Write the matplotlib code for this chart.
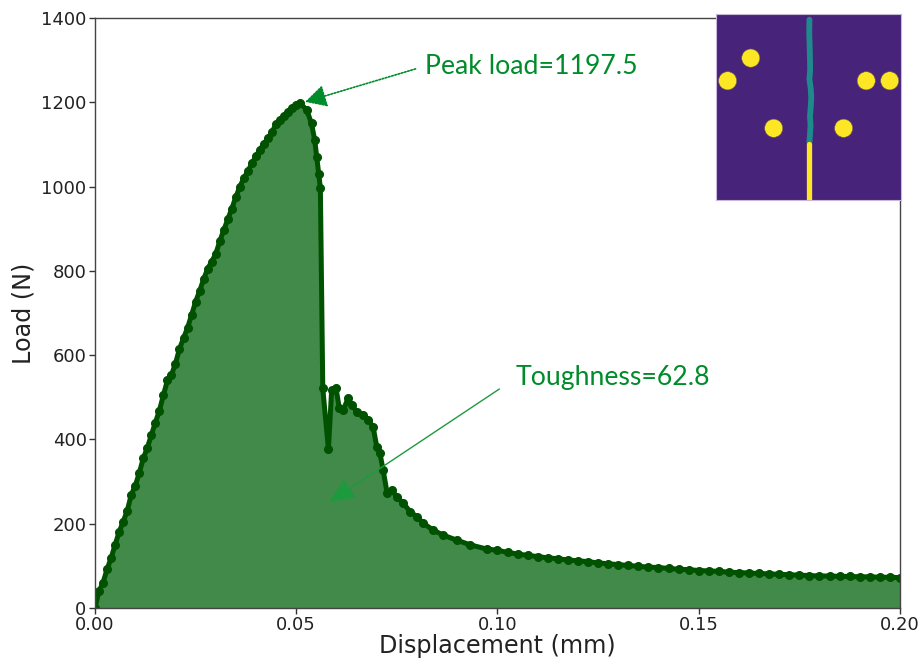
import matplotlib
matplotlib.use("Agg")
import matplotlib.pyplot as plt
from matplotlib.patches import Circle

# ---------------- data ----------------
disp_rise = [0.000, 0.001, 0.002, 0.003, 0.004, 0.005, 0.006, 0.007, 0.008, 0.009,
             0.010, 0.011, 0.012, 0.013, 0.014, 0.015, 0.016, 0.017, 0.018, 0.019,
             0.020, 0.021, 0.022, 0.023, 0.024, 0.025, 0.026, 0.027, 0.028, 0.029,
             0.030, 0.031, 0.032, 0.033, 0.034, 0.035, 0.036, 0.037, 0.038, 0.039,
             0.040, 0.041, 0.042, 0.043, 0.044, 0.045, 0.046, 0.047, 0.048, 0.049,
             0.050, 0.051]
load_rise = [0, 40, 60, 92, 118, 150, 180, 205, 230, 268,
             290, 320, 355, 380, 410, 440, 468, 505, 540, 553,
             580, 615, 640, 665, 695, 727, 752, 780, 805, 822,
             840, 870, 897, 922, 948, 975, 1000, 1020, 1037, 1055,
             1072, 1088, 1102, 1115, 1130, 1148, 1158, 1168, 1178, 1187,
             1194, 1197.5]

disp_drop = [0.0526, 0.0538, 0.0546, 0.0551, 0.0556, 0.0560, 0.0566, 0.0580, 0.0588,
             0.0599, 0.0607, 0.0617, 0.0629, 0.0638, 0.0650, 0.0667, 0.0679, 0.0691,
             0.0700, 0.0708, 0.0716, 0.0726, 0.0737, 0.0750, 0.0766, 0.0783, 0.0799,
             0.0816, 0.0840, 0.0865, 0.0899, 0.0932, 0.0973]
load_drop = [1182, 1150, 1110, 1070, 1030, 996, 521, 377, 517,
             521, 474, 470, 498, 482, 466, 458, 446, 430,
             383, 367, 327, 272, 280, 264, 248, 229, 217,
             201, 185, 173, 161, 150, 140]

disp_tail = [0.1000, 0.1025, 0.1050, 0.1075, 0.1100, 0.1125, 0.1150, 0.1175, 0.1200,
             0.1225, 0.1250, 0.1275, 0.1300, 0.1325, 0.1350, 0.1375, 0.1400, 0.1425,
             0.1450, 0.1475, 0.1500, 0.1525, 0.1550, 0.1575, 0.1600, 0.1625, 0.1650,
             0.1675, 0.1700, 0.1725, 0.1750, 0.1775, 0.1800, 0.1825, 0.1850, 0.1875,
             0.1900, 0.1925, 0.1950, 0.1975, 0.2000]
load_tail = [137, 132, 128, 125, 122, 119, 117, 114, 112,
             110, 107, 105, 103, 101, 99, 97, 96, 94,
             92, 91, 89, 88, 87, 85, 84, 83, 82,
             81, 80, 79, 78, 77, 76, 76, 75, 75,
             74, 74, 73, 73, 72]

displacement = disp_rise + disp_drop + disp_tail
load = load_rise + load_drop + load_tail

x_ticks = [0.00, 0.05, 0.10, 0.15, 0.20]
x_tick_labels = ["0.00", "0.05", "0.10", "0.15", "0.20"]
y_ticks = [0, 200, 400, 600, 800, 1000, 1200, 1400]

peak_load = 1197.5
peak_disp = 0.051
toughness = 62.8

# inset picture (specimen with holes, notch and crack), in inset-axes units
hole_x = [0.188, 0.063, 0.312, 0.690, 0.812, 0.939]
hole_y = [0.237, 0.359, 0.614, 0.614, 0.359, 0.359]
crack_x = [0.505, 0.504, 0.507, 0.509, 0.505, 0.512, 0.515, 0.512, 0.508, 0.511, 0.508, 0.505]
crack_y = [0.03, 0.10, 0.20, 0.30, 0.35, 0.40, 0.45, 0.50, 0.55, 0.60, 0.65, 0.69]

# ---------------- figure ----------------
fig = plt.figure(figsize=(9.21, 6.65), dpi=100)
ax = fig.add_axes([0.1031, 0.0857, 0.8741, 0.8872])

line_col = "#005200"
fill_col = "#418a4a"
ann_col = "#008c2a"

ax.fill_between(displacement, load, 0, color=fill_col, linewidth=0, zorder=1)
ax.plot(displacement, load, "-o", color=line_col, lw=3.6, ms=5.5, zorder=2)

ax.set_xlim(0, 0.20)
ax.set_ylim(0, 1400)
ax.set_xticks(x_ticks)
ax.set_xticklabels(x_tick_labels)
ax.set_yticks(y_ticks)
ax.tick_params(labelsize=13, length=4, width=1, color="#333333", labelcolor="#222222", pad=2)
for s in ax.spines.values():
    s.set_color("#444444")
    s.set_linewidth(1.0)
ax.set_xlabel("Displacement (mm)", fontsize=17.2, color="#222222", labelpad=0)
ax.set_ylabel("Load (N)", fontsize=17.2, color="#222222", labelpad=4)

ax.annotate(f"Peak load={peak_load}", xy=(0.0522, 1201), xytext=(0.0820, 1286),
            fontsize=19.2, color=ann_col, family=["Lato", "DejaVu Sans"], va="center", ha="left",
            arrowprops=dict(arrowstyle="-|>,head_length=0.68,head_width=0.36",
                            color=ann_col, lw=1.2, linestyle=(0, (1, 1)),
                            relpos=(0, 0.5), shrinkA=5, shrinkB=0), zorder=5)
ax.annotate(f"Toughness={toughness}", xy=(0.0582, 251), xytext=(0.1046, 546),
            fontsize=19.2, color=ann_col, family=["Lato", "DejaVu Sans"], va="center", ha="left",
            arrowprops=dict(arrowstyle="-|>,head_length=0.83,head_width=0.36",
                            color="#1e9a3e", lw=1.0, relpos=(0, 0.5),
                            shrinkA=12, shrinkB=0), zorder=5)

# ---------------- inset ----------------
iax = fig.add_axes([0.7774, 0.6992, 0.2009, 0.2797])
iax.set_facecolor("#48237a")
iax.set_xlim(0, 1)
iax.set_ylim(1, 0)
iax.set_xticks([])
iax.set_yticks([])
for s in iax.spines.values():
    s.set_color("#c8b8dc")
    s.set_linewidth(0.8)
for hx, hy in zip(hole_x, hole_y):
    iax.add_patch(Circle((hx, hy), 0.049, facecolor="#fde725", edgecolor="#6a5a50", lw=0.4))
iax.plot(crack_x, crack_y, color="#1f8a8c", lw=4.2, solid_capstyle="round", solid_joinstyle="round")
iax.plot([0.502, 0.502], [0.70, 1.05], color="#fde725", lw=3.8, solid_capstyle="round")

fig.savefig("out.png", dpi=100)
